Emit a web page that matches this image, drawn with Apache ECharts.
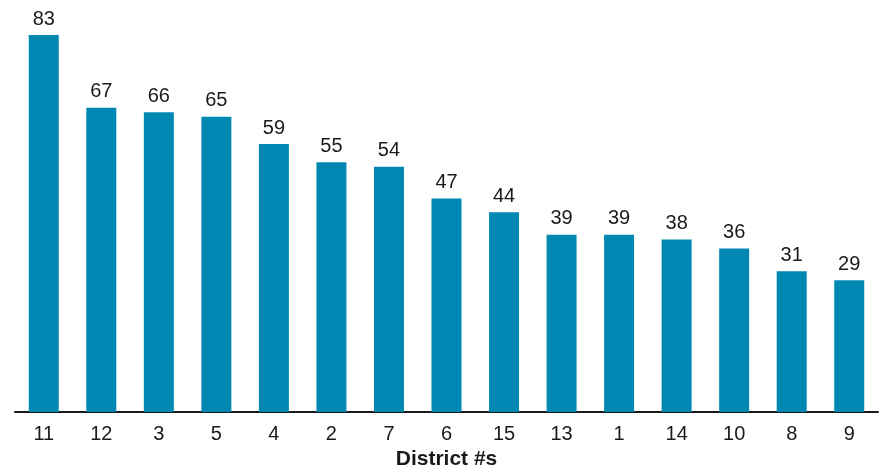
<!DOCTYPE html>
<html><head><meta charset="utf-8">
<script src="https://cdn.jsdelivr.net/npm/echarts@6/dist/echarts.min.js"></script>
<style>html,body{margin:0;padding:0;background:#fff}#c{width:885px;height:468px}</style>
</head><body><div id="c"></div>
<script>
const categories = ['11','12','3','5','4','2','7','6','15','13','1','14','10','8','9'];
const values = [83,67,66,65,59,55,54,47,44,39,39,38,36,31,29];
const chart = echarts.init(document.getElementById('c'));
chart.setOption({
  animation:false,
  grid:{left:15,right:7,top:35,bottom:56,outerBoundsMode:'none',containLabel:false},
  xAxis:{type:'category',data:categories,
    axisLine:{lineStyle:{color:'#1a1a1a',width:2}},
    axisTick:{show:false},
    axisLabel:{color:'#1a1a1a',fontSize:20,fontFamily:'Liberation Sans, Arial',margin:12},
    name:'District #s',nameLocation:'middle',nameGap:33,
    nameTextStyle:{color:'#1a1a1a',fontSize:21,fontWeight:'bold',fontFamily:'Liberation Sans, Arial',verticalAlign:'top'}},
  yAxis:{type:'value',min:0,max:83,show:false,splitLine:{show:false}},
  series:[{type:'bar',data:values,barWidth:30,
    itemStyle:{color:'#0088B3'},
    label:{show:true,position:'top',distance:6,color:'#1a1a1a',fontSize:20,fontFamily:'Liberation Sans, Arial'}}]
});
</script></body></html>
